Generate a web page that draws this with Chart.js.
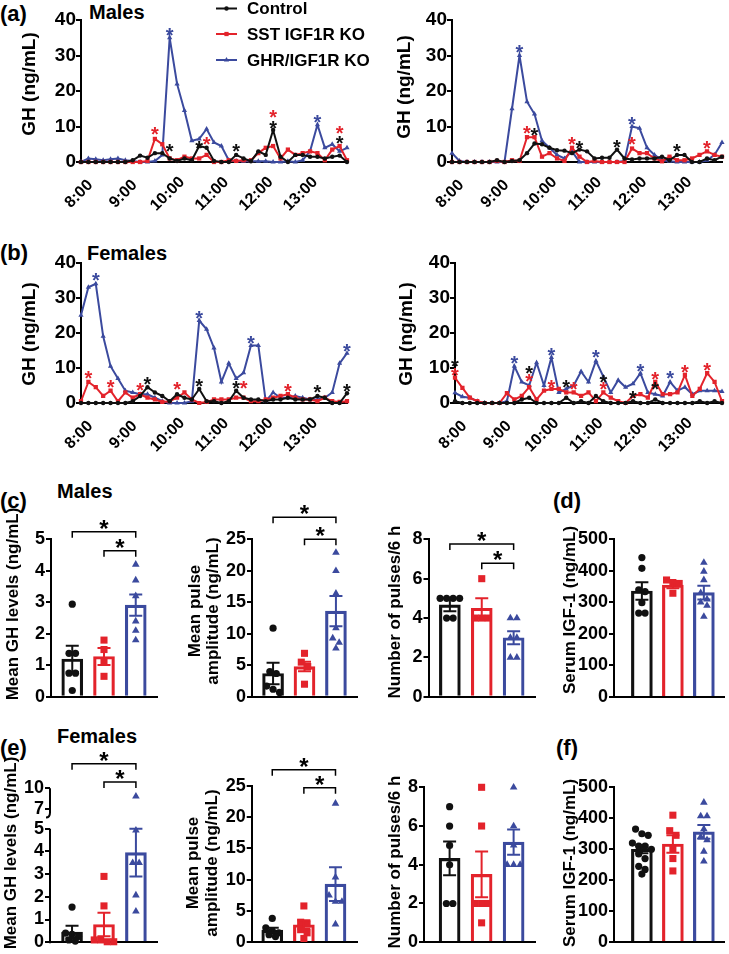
<!DOCTYPE html>
<html>
<head>
<meta charset="utf-8">
<script src="https://cdn.jsdelivr.net/npm/chart.js"></script>
<style>
  html, body { margin: 0; padding: 0; background: #fff; }
  #fig { position: relative; width: 729px; height: 954px; overflow: hidden; }
  .t { position: absolute; font-family: 'Liberation Sans', Arial, sans-serif; font-weight: bold; line-height: 1; white-space: nowrap; color: #000; }
</style>
</head>
<body>
<div id="fig">
  <div class="t" style="left:0;top:3px;font-size:22px">(a)</div>
  <div class="t" style="left:89px;top:2px;font-size:20px">Males</div>
  <div class="t" style="left:0;top:242px;font-size:22px">(b)</div>
  <div class="t" style="left:87px;top:243px;font-size:20px">Females</div>
  <div class="t" style="left:0;top:490px;font-size:22px">(c)</div>
  <div class="t" style="left:57px;top:481px;font-size:20px">Males</div>
  <div class="t" style="left:553px;top:490px;font-size:22px">(d)</div>
  <div class="t" style="left:0;top:737px;font-size:22px">(e)</div>
  <div class="t" style="left:57px;top:726px;font-size:20px">Females</div>
  <div class="t" style="left:556px;top:737px;font-size:22px">(f)</div>
</div>
<script>
// ---- data ----
const groupNames = ['Control', 'SST IGF1R KO', 'GHR/IGF1R KO'];
const timeLabels = ['8:00','8:10','8:20','8:30','8:40','8:50','9:00','9:10','9:20','9:30','9:40','9:50',
  '10:00','10:10','10:20','10:30','10:40','10:50','11:00','11:10','11:20','11:30','11:40','11:50',
  '12:00','12:10','12:20','12:30','12:40','12:50','13:00','13:10','13:20','13:30','13:40','13:50','14:00'];
const hourTicks = ['8:00', '9:00', '10:00', '11:00', '12:00', '13:00'];

// (a) males, left
const maleA_ctrl = [0,0,0,0,0,0,0,0.5,1.8,1.2, 2.5,2.5,1,0.3,1,0.5,4.5,4,0.3,0, 0,2,1,0.2,3,2,9,1.5,0,2, 2,1.5,1.5,1,1.5,1.8,0];
const maleA_sst = [0,0,0,0,0,0,0,0,0,0.3, 6.5,5,1,0.5,1.5,1,1,2,0,0, 0.5,0.3,0.5,0.5,2.5,4,4.5,1,3.5,2, 2.5,3,2.5,0.5,3.5,4.5,0.5];
const maleA_ghr = [0,1,0.8,0.5,0.8,1,0.5,0.3,0,0, 0.3,2,35,22,14.5,6,6.5,9.3,5.5,4.5, 0.5,0.3,0.2,0.2,0.2,0.2,0,0,0.2,0, 0.5,3,10.5,4,5,3,4];
const maleA_ctrlStars = [[12,4.3],[16,5.2],[21,4.2],[26,10.8],[35,6.6]];
const maleA_sstStars = [[10,9],[17,6.1],[26,13.7],[35,9.4]];
const maleA_ghrStars = [[12,36.8],[32,12.3]];

// (a) males, right
const maleB_ctrl = [0,0,0,0,0,0,0.5,0,0.3,0.5, 2.5,5.2,5,4,3.3,3.2,2.5,3.5,3,1, 1.2,1.2,3.5,1,0.7,1,1,1,1.5,0.5, 2,2,0,0,1,0.5,1.5];
const maleB_sst = [0,0,0,0,0,0,0.3,0,0.5,0.3, 7,7,1.5,2.5,1,0.3,4,1.5,0,0.3, 0,0,0,0,3.8,2.5,2.5,1,0.2,1.5, 0.5,0.5,1,2,3,2,1.5];
const maleB_ghr = [2.5,0.3,0,0,0,0,0,0,15,30, 17,13.5,6,4,2,1,3,0,0,0, 0,0,0,0.3,10,9.5,4,2,0.5,0.2, 0,0,0,0,0.5,2,5.5];
const maleB_ctrlStars = [[11,8.7],[17,5.2],[22,5.4],[30,4.2]];
const maleB_sstStars = [[10,9.4],[16,6.1],[24,6.1],[34,5.2]];
const maleB_ghrStars = [[9,32],[24,11.8]];

// (b) females, left
const femA_ctrl = [0,0,0,0,0,0,0,0.5,2,4.5, 3,2,0.5,2.5,1.5,1,4,0.5,0.5,0, 0.5,3.5,1.5,1,1,0.5,1,1,1.5,1, 1,1,2,1.5,0,0,2.8];
const femA_sst = [0.5,6,4.5,2,3.5,0.5,3,1.5,2.5,1.5, 1,0.3,0.5,1.5,3,1,0,0.3,1,1, 1,1.5,1.5,0.5,0.5,1,1.5,2,2.5,1.5, 1,1,0.5,1.5,0.5,0.3,0.5];
const femA_ghr = [25,33,34,19,10.5,7,3.5,3,2.5,2.5, 1.5,0.5,0,0,0,0.5,23.5,21,15.7,6, 11.3,7,8.6,16.4,16.4,0.5,3,1.5,1.5,2, 1.5,1,1,1.5,3,11.3,14.2];
const femA_ctrlStars = [[9,6.6],[16,6.1],[21,5.4],[32,4.3],[36,4.7]];
const femA_sstStars = [[1,8.3],[4,5.7],[8,4.9],[13,5.1],[22,5.4],[28,4.6]];
const femA_ghrStars = [[2,36.3],[16,25.4],[23,18.3],[36,16]];

// (b) females, right
const femB_ctrl = [0.5,0,0,0,0,0,0,0,0,1, 1.5,0,0,0,0,1.5,0,0.5,0,2, 0.5,0,0,0,0.5,0,0,1,0,0, 0,0,0,0.5,0,0.5,0];
const femB_sst = [7.2,4.3,1.5,0.5,0,0,0,2.8,1,2, 4.5,1,3.5,4,4,3,3,2,3,0.5, 3,1.5,0.5,0,2,2.5,1.5,6,2.5,2.5, 3,8,2,4,8.5,6,0.5];
const femB_ghr = [2.9,1.8,1.5,0.5,0,0,0,0.5,10.5,6, 5,11.5,5,13,3,4,5,9,6,12, 7.5,3,6.5,4.5,5.5,8.5,3,2.5,2,6, 3.5,4.5,2.5,3.5,3.5,3.5,3.3];
const femB_ctrlStars = [[0,11.8],[10,9.6],[15,5.8],[20,7.1],[24,2.6],[27,5.1]];
const femB_sstStars = [[0,9],[10,7.5],[13,5.8],[16,5],[20,5],[27,8],[31,10],[34,10.5]];
const femB_ghrStars = [[8,12.5],[13,14.8],[19,14.2],[25,10.2],[29,8.4]];

// (c) males
const maleGH_mean = [1.2, 1.28, 2.91];
const maleGH_sem = [0.42, 0.27, 0.34];
const maleGH_ctrl = [2.94, 1.38, 1.38, 0.75, 0.75, 0.2];
const maleGH_sst = [1.8, 1.5, 1.15, 0.65];
const maleGH_ghr = [4.2, 3.7, 3.2, 2.4, 2.1, 1.8];
const maleGH_sig = [[0, 2, 5.24], [1, 2, 4.64]];

const maleAmp_mean = [3.7, 4.8, 13.6];
const maleAmp_sem = [1.7, 0.75, 2.4];
const maleAmp_ctrl = [10.9, 4.0, 3.7, 1.7, 1.2, 0.7];
const maleAmp_sst = [6.9, 5.5, 4.8, 2.0];
const maleAmp_ghr = [22.9, 20.0, 16.4, 10.9, 9.3, 8.6, 7.7];
const maleAmp_sig = [[0, 2, 28.5], [1, 2, 25.0]];

const malePulse_mean = [4.67, 4.5, 3.0];
const malePulse_sem = [0.33, 0.5, 0.33];
const malePulse_ctrl = [5, 5, 5, 5, 4, 4];
const malePulse_sst = [6, 4, 4, 4];
const malePulse_ghr = [4, 4, 3, 3, 2, 2];
const malePulse_sig = [[0, 2, 7.76], [1, 2, 6.78]];

// (d) males
const maleIGF_mean = [336, 355, 331];
const maleIGF_sem = [28, 10, 22];
const maleIGF_ctrl = [442, 408, 340, 334, 299, 266, 266];
const maleIGF_sst = [371, 363, 360, 329];
const maleIGF_ghr = [426, 398, 371, 330, 310, 300, 290, 255];

// (e) females
const femGH_mean = [0.45, 0.78, 3.95];
const femGH_sem = [0.27, 0.52, 1.05];
const femGH_ctrl = [1.55, 0.4, 0.35, 0.25, 0.1, 0.05];
const femGH_sst = [2.9, 1.6, 0.1, 0.1, 0.02, 0.02];
const femGH_ghr = [8.85, 4.93, 3.5, 3.5, 2.07, 1.36];
const femGH_sig = [[0, 2, 13.5], [1, 2, 10.9]];
const femGH_ticks = [0, 1, 2, 3, 4, 5, 7, 10];

const femAmp_mean = [1.92, 2.8, 9.3];
const femAmp_sem = [0.4, 0.7, 2.7];
const femAmp_ctrl = [3.8, 2.3, 1.8, 1.5, 1.2, 0.9];
const femAmp_sst = [5.8, 3.2, 2.9, 2.0, 1.5, 0.6];
const femAmp_ghr = [22.2, 10.4, 7.5, 6.5, 6.5, 2.87];
const femAmp_sig = [[0, 2, 27.6], [1, 2, 24.7]];

const femPulse_mean = [4.33, 3.5, 5.17];
const femPulse_sem = [0.87, 1.18, 0.65];
const femPulse_ctrl = [7, 6, 5, 4, 2, 2];
const femPulse_sst = [8, 6, 2, 2, 2, 1];
const femPulse_ghr = [8, 6, 5, 4, 4, 4];

// (f) females
const femIGF_mean = [300, 317, 356];
const femIGF_sem = [13, 28, 22];
const femIGF_ctrl = [365, 350, 345, 320, 310, 310, 300, 285, 270, 245, 235, 220];
const femIGF_sst = [410, 360, 345, 300, 270, 230];
const femIGF_ghr = [451, 407, 407, 365, 340, 330, 293, 261];

// ---- drawing ----
const FONT = "'Liberation Sans', Arial, sans-serif";
const ink = ['#111111', '#e3232b', '#3b4a9e'];
const shapes = ['circle', 'rect', 'triangle'];

function bold(size) {
  return { family: FONT, size: size, weight: 'bold' };
}

function addCanvas(r) {
  const c = document.createElement('canvas');
  c.width = r.w;
  c.height = r.h;
  c.style.cssText = 'position:absolute;left:' + r.x + 'px;top:' + r.y + 'px;width:' + r.w + 'px;height:' + r.h + 'px';
  document.getElementById('fig').appendChild(c);
  return c;
}

// canvas box r and plot area p in page pixels -> padding and axis sizes
function frame(r, p) {
  return {
    padding: { top: p.t - r.y, right: r.x + r.w - p.r, left: 0, bottom: 0 },
    yW: p.l - r.x,
    xH: r.y + r.h - p.b
  };
}

class BrokenScale extends Chart.LinearScale {
  getPixelForValue(v) {
    const b = this._brk;
    if (!b || v === null || v === undefined) return super.getPixelForValue(v);
    const lo = b.at[0], hi = b.at[1], f0 = b.frac[0], f1 = b.frac[1];
    let d;
    if (v <= lo) d = (v - this.min) / (lo - this.min) * f0;
    else if (v >= hi) d = f1 + (v - hi) / (this.max - hi) * (1 - f1);
    else d = f0 + (v - lo) / (hi - lo) * (f1 - f0);
    return this.getPixelForDecimal(d);
  }
}
BrokenScale.id = 'broken';
BrokenScale.defaults = Chart.LinearScale.defaults;
Chart.register(BrokenScale);

// rotated y-axis title, t = {lines, x (page x of first line centre), y (page y centre), size, gap}
function titlePlugin(r, t) {
  return {
    id: 'axisTitle',
    afterDraw(chart) {
      const ctx = chart.ctx;
      ctx.save();
      ctx.font = 'bold ' + t.size + 'px ' + FONT;
      ctx.fillStyle = '#000';
      ctx.textAlign = 'center';
      ctx.textBaseline = 'middle';
      t.lines.forEach((line, i) => {
        ctx.save();
        ctx.translate(t.x - r.x + i * (t.gap || 0), t.y - r.y);
        ctx.rotate(-Math.PI / 2);
        ctx.fillText(line, 0, 0);
        ctx.restore();
      });
      ctx.restore();
    }
  };
}

const timeTickPlugin = {
  id: 'timeTicks',
  afterDraw(chart) {
    const ctx = chart.ctx, x = chart.scales.x;
    ctx.save();
    ctx.font = 'bold 16px ' + FONT;
    ctx.fillStyle = '#000';
    ctx.textAlign = 'center';
    ctx.textBaseline = 'middle';
    hourTicks.forEach(lbl => {
      const px = x.getPixelForValue(timeLabels.indexOf(lbl));
      ctx.save();
      ctx.translate(px - 2, x.top + 32);
      ctx.rotate(-Math.PI / 4);
      ctx.fillText(lbl, 0, 0);
      ctx.restore();
    });
    ctx.restore();
  }
};

function starPlugin(sets) {
  return {
    id: 'stars',
    afterDatasetsDraw(chart) {
      const ctx = chart.ctx, x = chart.scales.x, y = chart.scales.y;
      ctx.save();
      ctx.font = 'bold 20px ' + FONT;
      ctx.textAlign = 'center';
      ctx.textBaseline = 'alphabetic';
      sets.forEach((set, k) => {
        ctx.fillStyle = ink[k];
        set.forEach(s => ctx.fillText('*', x.getPixelForValue(s[0]), y.getPixelForValue(s[1]) + 11));
      });
      ctx.restore();
    }
  };
}

function legendPlugin(rowsY) {
  return {
    id: 'seriesLegend',
    afterDraw(chart) {
      const ctx = chart.ctx;
      chart.data.datasets.forEach((ds, k) => {
        const yy = rowsY[k];
        ctx.save();
        ctx.strokeStyle = ds.borderColor;
        ctx.lineWidth = 2;
        ctx.beginPath();
        ctx.moveTo(216, yy);
        ctx.lineTo(237, yy);
        ctx.stroke();
        ctx.fillStyle = ds.borderColor;
        Chart.helpers.drawPoint(ctx, { pointStyle: ds.pointStyle, radius: ds.pointRadius, borderWidth: 0, rotation: 0 }, 226.5, yy);
        ctx.fillStyle = '#000';
        ctx.font = 'bold 17px ' + FONT;
        ctx.textBaseline = 'middle';
        ctx.fillText(ds.label, 247, yy + 1);
        ctx.restore();
      });
    }
  };
}

function lineChart(r, p, series, stars, title, withLegend) {
  const f = frame(r, p);
  const plugins = [timeTickPlugin, starPlugin(stars), titlePlugin(r, title)];
  if (withLegend) plugins.push(legendPlugin([8.5 - r.y, 34 - r.y, 60 - r.y]));
  new Chart(addCanvas(r), {
    type: 'line',
    data: {
      labels: timeLabels,
      datasets: series.map((d, k) => ({
        label: groupNames[k], data: d,
        borderColor: ink[k], backgroundColor: ink[k], borderWidth: 2,
        pointStyle: shapes[k], pointRadius: [2.2, 3, 3][k], pointBorderWidth: 0,
        tension: 0, clip: 6
      }))
    },
    options: {
      responsive: false, animation: false, events: [],
      layout: { padding: f.padding },
      plugins: { legend: { display: false }, tooltip: { enabled: false } },
      scales: {
        x: {
          type: 'category', offset: false,
          grid: { display: false },
          border: { color: '#000', width: 2 },
          ticks: { display: false },
          afterFit: s => { s.height = f.xH; }
        },
        y: {
          min: 0, max: 40,
          ticks: { stepSize: 10, font: bold(19), color: '#000', padding: 0 },
          grid: { drawOnChartArea: false, color: '#000', lineWidth: 2, tickLength: 5 },
          border: { color: '#000', width: 2 },
          afterFit: s => { s.width = f.yW; }
        }
      }
    },
    plugins: plugins
  });
}

// spread dots of one group sideways where they would overlap
function swarm(vals, k, pxPerVal, unitPx) {
  const sorted = vals.slice().sort((a, b) => b - a);
  const rows = [];
  sorted.forEach(v => {
    const row = rows[rows.length - 1];
    if (row && (row[0] - v) * pxPerVal < 6.5) row.push(v);
    else rows.push([v]);
  });
  const out = [];
  rows.forEach(row => row.forEach((v, j) => out.push({ x: k + (j - (row.length - 1) / 2) * 6.5 / unitPx, y: v })));
  return out;
}

function barExtras(o) {
  return {
    id: 'barExtras',
    afterDatasetsDraw(chart) {
      const ctx = chart.ctx, x = chart.scales.x, y = chart.scales.y;
      ctx.save();
      ctx.lineWidth = 2;
      o.means.forEach((m, k) => {
        const cx = x.getPixelForValue(k);
        const top = y.getPixelForValue(m + o.sems[k]), bot = y.getPixelForValue(m - o.sems[k]);
        ctx.strokeStyle = ink[k];
        ctx.beginPath();
        ctx.moveTo(cx, top); ctx.lineTo(cx, bot);
        ctx.moveTo(cx - 6.5, top); ctx.lineTo(cx + 6.5, top);
        ctx.moveTo(cx - 6.5, bot); ctx.lineTo(cx + 6.5, bot);
        ctx.stroke();
      });
      ctx.strokeStyle = '#000';
      ctx.fillStyle = '#000';
      ctx.lineWidth = 1.5;
      ctx.font = 'bold 24px ' + FONT;
      ctx.textAlign = 'center';
      (o.sig || []).forEach(s => {
        const x1 = x.getPixelForValue(s[0]), x2 = x.getPixelForValue(s[1]), yy = y.getPixelForValue(s[2]);
        ctx.beginPath();
        ctx.moveTo(x1, yy + 6); ctx.lineTo(x1, yy); ctx.lineTo(x2, yy); ctx.lineTo(x2, yy + 6);
        ctx.stroke();
        ctx.fillText('*', (x1 + x2) / 2, yy + 5);
      });
      if (o.broken) {
        const ax = chart.chartArea.left;
        const y7 = y.getPixelForValue(o.broken.at[1]);
        ctx.lineWidth = 2;
        ctx.beginPath();
        ctx.moveTo(ax, y.getPixelForValue(0) + 1);
        ctx.lineTo(ax, y.getPixelForValue(o.broken.at[0]));
        ctx.moveTo(ax, y.getPixelForValue(o.yMax));
        ctx.lineTo(ax, y7 + 3);
        ctx.quadraticCurveTo(ax, y7 + 8, ax - 4, y7 + 8);
        ctx.stroke();
      }
      ctx.restore();
    }
  };
}

function barChart(r, p, o) {
  const f = frame(r, p);
  const unitPx = (p.r - p.l) / (o.xMax - o.xMin);
  const pxPerVal = o.broken ? (p.b - p.t) * o.broken.frac[0] / o.broken.at[0] : (p.b - p.t) / o.yMax;
  const datasets = [{
    type: 'bar', order: 2,
    data: o.means.map((m, k) => ({ x: k, y: m })),
    backgroundColor: 'rgba(255,255,255,0)', borderColor: ink, borderWidth: 2.5,
    barThickness: 21, borderSkipped: 'bottom'
  }];
  o.groups.forEach((vals, k) => datasets.push({
    type: 'scatter', order: 1,
    data: swarm(vals, k, pxPerVal, unitPx),
    pointStyle: shapes[k], pointRadius: [3.6, 5, 4.4][k],
    backgroundColor: ink[k], borderColor: ink[k], pointBorderWidth: 0, clip: false
  }));
  const y = {
    type: o.broken ? 'broken' : 'linear',
    min: 0, max: o.yMax,
    ticks: { stepSize: o.step, font: bold(18), color: '#000', padding: 1, autoSkip: false },
    grid: { drawOnChartArea: false, color: '#000', lineWidth: 2, tickLength: 5 },
    border: { display: !o.broken, color: '#000', width: 2 },
    afterFit: s => { s.width = f.yW; }
  };
  if (o.broken) {
    y.afterDataLimits = s => { s._brk = o.broken; };
    y.afterBuildTicks = s => { s.ticks = o.ticks.map(v => ({ value: v })); };
  }
  new Chart(addCanvas(r), {
    type: 'bar',
    data: { datasets: datasets },
    options: {
      responsive: false, animation: false, events: [],
      layout: { padding: f.padding },
      plugins: { legend: { display: false }, tooltip: { enabled: false } },
      scales: {
        x: {
          type: 'linear', min: o.xMin, max: o.xMax, offset: false,
          grid: { display: false },
          border: { color: '#000', width: 2 },
          ticks: { display: false },
          afterFit: s => { s.height = f.xH; }
        },
        y: y
      }
    },
    plugins: [barExtras(o), titlePlugin(r, o.title)]
  });
}

// ---- panels ----
lineChart({ x: 0, y: 0, w: 380, h: 225 }, { l: 81, t: 20, r: 347, b: 162 },
  [maleA_ctrl, maleA_sst, maleA_ghr], [maleA_ctrlStars, maleA_sstStars, maleA_ghrStars],
  { lines: ['GH (ng/mL)'], x: 30, y: 84, size: 19 }, true);
lineChart({ x: 365, y: 0, w: 364, h: 225 }, { l: 452, t: 20, r: 722, b: 162 },
  [maleB_ctrl, maleB_sst, maleB_ghr], [maleB_ctrlStars, maleB_sstStars, maleB_ghrStars],
  { lines: ['GH (ng/mL)'], x: 405, y: 87, size: 19 }, false);
lineChart({ x: 0, y: 235, w: 362, h: 225 }, { l: 81, t: 262.7, r: 347, b: 403 },
  [femA_ctrl, femA_sst, femA_ghr], [femA_ctrlStars, femA_sstStars, femA_ghrStars],
  { lines: ['GH (ng/mL)'], x: 30, y: 334, size: 19 }, false);
lineChart({ x: 365, y: 235, w: 364, h: 225 }, { l: 455, t: 262.7, r: 722, b: 403 },
  [femB_ctrl, femB_sst, femB_ghr], [femB_ctrlStars, femB_sstStars, femB_ghrStars],
  { lines: ['GH (ng/mL)'], x: 407, y: 334, size: 19 }, false);

barChart({ x: 0, y: 478, w: 170, h: 232 }, { l: 51, t: 539.3, r: 157, b: 696.8 }, {
  means: maleGH_mean, sems: maleGH_sem, groups: [maleGH_ctrl, maleGH_sst, maleGH_ghr], sig: maleGH_sig,
  yMax: 5, step: 1, xMin: -0.67, xMax: 2.67,
  title: { lines: ['Mean GH levels (ng/mL)'], x: 13, y: 604, size: 17 }
});
barChart({ x: 170, y: 478, w: 192, h: 232 }, { l: 252, t: 539.3, r: 358, b: 696.8 }, {
  means: maleAmp_mean, sems: maleAmp_sem, groups: [maleAmp_ctrl, maleAmp_sst, maleAmp_ghr], sig: maleAmp_sig,
  yMax: 25, step: 5, xMin: -0.67, xMax: 2.67,
  title: { lines: ['Mean pulse', 'amplitude (ng/mL)'], x: 195, y: 611, size: 17, gap: 18.7 }
});
barChart({ x: 365, y: 478, w: 178, h: 232 }, { l: 428.5, t: 539.3, r: 535, b: 696.8 }, {
  means: malePulse_mean, sems: malePulse_sem, groups: [malePulse_ctrl, malePulse_sst, malePulse_ghr], sig: malePulse_sig,
  yMax: 8, step: 2, xMin: -0.67, xMax: 2.67,
  title: { lines: ['Number of pulses/6 h'], x: 395, y: 612, size: 17 }
});
barChart({ x: 545, y: 478, w: 184, h: 232 }, { l: 614, t: 539.3, r: 727, b: 697 }, {
  means: maleIGF_mean, sems: maleIGF_sem, groups: [maleIGF_ctrl, maleIGF_sst, maleIGF_ghr],
  yMax: 500, step: 100, xMin: -0.9, xMax: 2.65,
  title: { lines: ['Serum IGF-1 (ng/mL)'], x: 570, y: 610, size: 17 }
});

barChart({ x: 0, y: 722, w: 170, h: 232 }, { l: 50, t: 788.3, r: 157, b: 946.7 }, {
  means: femGH_mean, sems: femGH_sem, groups: [femGH_ctrl, femGH_sst, femGH_ghr], sig: femGH_sig,
  yMax: 10, step: 1, ticks: femGH_ticks, broken: { at: [5, 7], frac: [0.737, 0.863] },
  xMin: -0.69, xMax: 2.66,
  title: { lines: ['Mean GH levels (ng/mL)'], x: 11, y: 853, size: 17 }
});
barChart({ x: 170, y: 722, w: 192, h: 232 }, { l: 251.7, t: 786, r: 358, b: 946.7 }, {
  means: femAmp_mean, sems: femAmp_sem, groups: [femAmp_ctrl, femAmp_sst, femAmp_ghr], sig: femAmp_sig,
  yMax: 25, step: 5, xMin: -0.65, xMax: 2.68,
  title: { lines: ['Mean pulse', 'amplitude (ng/mL)'], x: 193.5, y: 863, size: 17, gap: 18.7 }
});
barChart({ x: 365, y: 722, w: 178, h: 232 }, { l: 424, t: 787.3, r: 535.7, b: 946.7 }, {
  means: femPulse_mean, sems: femPulse_sem, groups: [femPulse_ctrl, femPulse_sst, femPulse_ghr],
  yMax: 8, step: 2, xMin: -0.8, xMax: 2.69,
  title: { lines: ['Number of pulses/6 h'], x: 395, y: 862, size: 17 }
});
barChart({ x: 545, y: 722, w: 184, h: 232 }, { l: 614, t: 787.3, r: 727, b: 946.7 }, {
  means: femIGF_mean, sems: femIGF_sem, groups: [femIGF_ctrl, femIGF_sst, femIGF_ghr],
  yMax: 500, step: 100, xMin: -0.9, xMax: 2.65,
  title: { lines: ['Serum IGF-1 (ng/mL)'], x: 570, y: 863, size: 17 }
});
</script>
</body>
</html>
